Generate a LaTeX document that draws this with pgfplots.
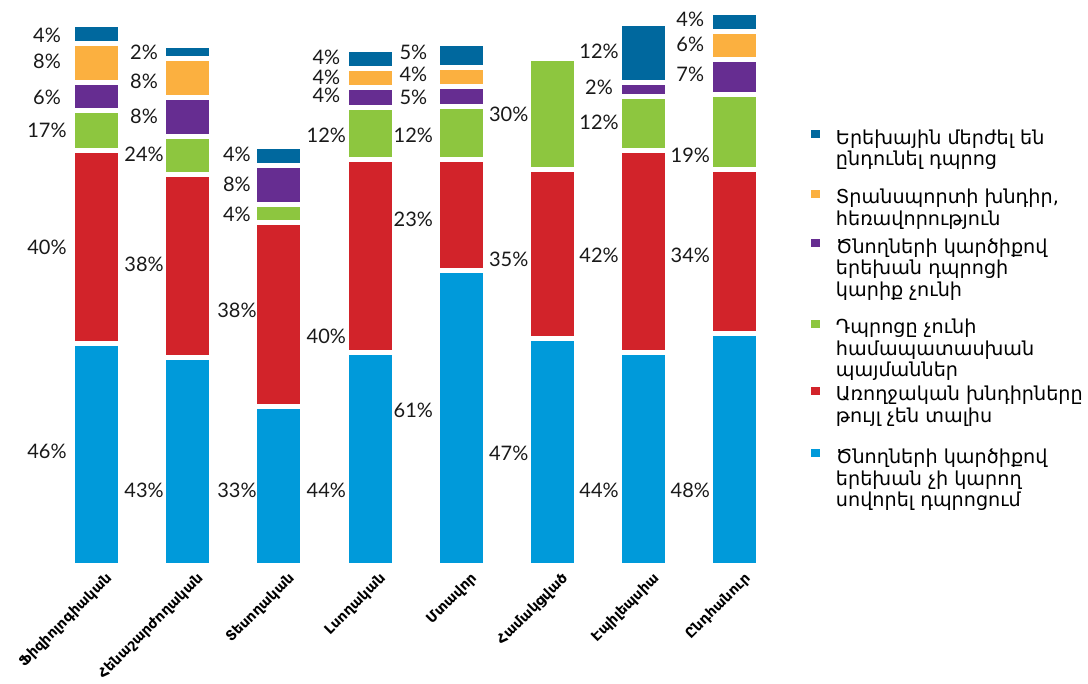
\documentclass[border=0pt]{standalone}
\usepackage{fontspec}
\setmainfont{Lato}
\newfontfamily\armfont{DejaVu Sans}
\usepackage{pgfplots}
\usepackage{pgfplotstable}
\pgfplotsset{compat=1.18}
\definecolor{clb}{RGB}{0,154,218}
\definecolor{crd}{RGB}{210,35,42}
\definecolor{cgr}{RGB}{141,198,63}
\definecolor{cpu}{RGB}{102,45,145}
\definecolor{cor}{RGB}{251,176,64}
\definecolor{cdb}{RGB}{0,104,158}
\newcommand\lgd[2]{\raisebox{#2}[\dimexpr\height+#2\relax][0pt]{\begin{tabular}[b]{@{}l@{}}#1\end{tabular}}}
\pgfplotstableread{
x lb rd gr pu or db
0 46 40 8.1 6 8 4
1 43 38 7.9 8 8 2.8
2 33 38 3.8 8 0 4
3 44 40 10.9 4 4 4
4 61 23 11.05 4.1 4 5
5 47 35 23 0 0 0
6 44 42 11.05 2.9 0 12.2
7 48 34 15.6 7.1 5.8 4
}\bars
\pgfplotstableread{
x y v
-0.543 23.71 46
-0.543 65.84 40
-0.543 90.06 17
-0.543 96.89 6
-0.543 104.45 8
-0.543 109.73 4
0.521 15.63 43
0.521 62.32 38
0.521 85.09 24
0.521 93.06 8
0.521 100.31 8
0.521 106.21 2
1.54 15.63 33
1.54 52.90 38
1.54 72.67 4
1.54 78.88 8
1.54 85.09 4
2.52 15.63 44
2.52 47.52 40
2.52 89.03 12
2.52 97.31 4
2.52 101.04 4
2.52 105.18 4
3.474 32.19 61
3.474 71.64 23
3.474 89.03 12
3.474 96.89 5
3.474 101.66 4
3.474 106.21 5
4.52 23.29 47
4.52 63.35 35
4.52 93.37 30
5.51 15.63 44
5.51 64.18 42
5.51 91.72 12
5.51 98.96 2
5.51 106.42 12
6.51 15.63 48
6.51 64.18 34
6.51 84.89 19
6.51 101.66 7
6.51 107.87 6
6.51 113.04 4
}\labels
\begin{document}
\begin{tikzpicture}
\begin{axis}[
  name=main, at={(0,0)}, anchor=south west,
  scale only axis, width=390pt, height=282.75pt,
  xmin=-1.058, xmax=7.494, ymin=0, ymax=117.08,
  ybar stacked, bar width=24pt,
  axis line style={draw=none}, tick style={draw=none}, major tick length=0pt,
  ytick=\empty, xtick={0,...,7},
  xticklabels={Ֆիզիոլոգիական,Հենաշարժողական,Տեսողական,Լսողական,Մտավոր,Համակցված,Էպիլեպսիա,Ընդհանուր},
  xticklabel style={font=\armfont\bfseries\fontsize{7}{9}\selectfont, rotate=45, anchor=north east, inner sep=0pt, yshift=-5pt, xshift=1pt},
  clip=false,
  reverse legend,
  legend style={draw=none, fill=none, inner sep=0pt, at={(1.033,0.7793)}, anchor=north west,
    font=\armfont\fontsize{9.6}{10.75}\selectfont, row sep=0pt, column sep=5.5pt,
    nodes={inner sep=0pt}, cells={anchor=north west}},
  every axis plot post/.append style={draw=white, line width=2.5pt,
    legend image code/.code={\fill[##1] (0pt,-5.9pt) rectangle (6.9pt,0.6pt);}},
]
\addplot[fill=clb] table[x=x,y=lb]{\bars};
\addlegendentry{\lgd{Ծնողների կարծիքով\\երեխան չի կարող\\սովորել դպրոցում}{3.3pt}}
\addplot[fill=crd] table[x=x,y=rd]{\bars};
\addlegendentry{\lgd{Առողջական խնդիրները\\թույլ չեն տալիս}{9.65pt}}
\addplot[fill=cgr] table[x=x,y=gr]{\bars};
\addlegendentry{\lgd{Դպրոցը չունի\\համապատասխան\\պայմաններ}{0.8pt}}
\addplot[fill=cpu] table[x=x,y=pu]{\bars};
\addlegendentry{\lgd{Ծնողների կարծիքով\\երեխան դպրոցի\\կարիք չունի}{7.65pt}}
\addplot[fill=cor] table[x=x,y=or]{\bars};
\addlegendentry{\lgd{Տրանսպորտի խնդիր,\\հեռավորություն}{2.95pt}}
\addplot[fill=cdb] table[x=x,y=db]{\bars};
\addlegendentry{\lgd{Երեխային մերժել են\\ընդունել դպրոց}{7.95pt}}
\end{axis}
\begin{axis}[
  at={(0,0)}, anchor=south west,
  scale only axis, width=390pt, height=282.75pt,
  xmin=-1.058, xmax=7.494, ymin=0, ymax=117.08,
  hide axis, clip=false]
\addplot[draw=none, mark=none, nodes near coords={\pgfplotspointmeta\%},
  point meta=explicit symbolic,
  every node near coord/.style={anchor=center, inner sep=0pt, text=black!90, font=\fontsize{10}{12}\selectfont}]
  table[x=x,y=y,meta=v]{\labels};
\end{axis}
\pgfresetboundingbox
\path[use as bounding box] (0pt,-59.25pt) rectangle (544pt,282.75pt);
\end{tikzpicture}
\end{document}
